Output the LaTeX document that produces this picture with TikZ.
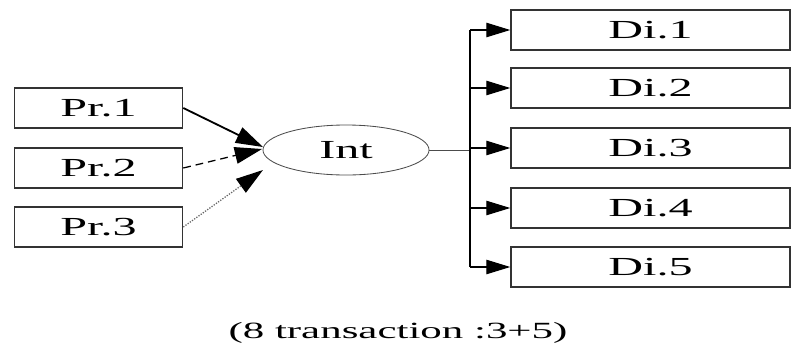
\documentclass[tikz,border=0pt]{standalone}
\usepackage{fontspec}
\setmainfont{Liberation Serif}[FakeStretch=1.85]
\usetikzlibrary{shapes.geometric,arrows.meta}

\tikzset{
  box/.style={draw=black!80, line width=1.1pt, rectangle, minimum height=1cm, inner sep=0pt, font=\fontsize{18.5}{20}\selectfont},
  flow/.style={line width=0.9pt, -{Triangle[length=0.6cm,width=0.36cm]}},
  feed/.style={line width=0.9pt, -{Triangle[length=0.68cm,width=0.42cm,color=black]}}
}

\begin{document}
\begin{tikzpicture}[x=0.025cm, y=-0.025cm]
        \useasboundingbox (0,0) rectangle (793,349);
        \node[box, minimum width=4.2cm] (pr1) at (98.5,108) {Pr.1}; % producers
        \node[box, minimum width=4.2cm] (pr2) at (98.5,168) {Pr.2};
        \node[box, minimum width=4.2cm] (pr3) at (98.5,227) {Pr.3};
        \node[draw=black!70, line width=0.6pt, ellipse, minimum width=4.15cm, minimum height=1.25cm, inner sep=0pt, font=\fontsize{18.5}{20}\selectfont] (int) at (346,150) {Int}; % intermediary
        \foreach \i/\y in {1/30,2/88,3/148,4/208,5/267}
            \node[box, minimum width=6.97cm] (di\i) at (650.5,\y) {Di.\i}; % distributors
        \coordinate (tip1) at (263,147);
        \coordinate (tip2) at (262,149);
        \coordinate (tip3) at (263,170);
        \coordinate (bustop) at (470,30);
        \coordinate (busbot) at (470,267);
        \draw[feed, line width=1.3pt] (pr1.east) -- (tip1);
        \draw[feed, dash pattern=on 5.5pt off 3.5pt] (pr2.east) -- (tip2);
        \draw[feed, densely dotted, draw=black!60] (pr3.east) -- (tip3);
        \draw[black!70, line width=0.6pt] (int.east) -- (int.east -| bustop); % to bus
        \draw[line width=1pt] (bustop) -- (busbot); % main bus
        \foreach \i in {1,2,3,4,5}
            \draw[flow] (di\i.west -| bustop) -- (di\i.west);
        \node[font=\fontsize{16.5}{18}\selectfont] (caption) at (398,333) {(8 transaction :3+5)};
    \end{tikzpicture}
\end{document}
